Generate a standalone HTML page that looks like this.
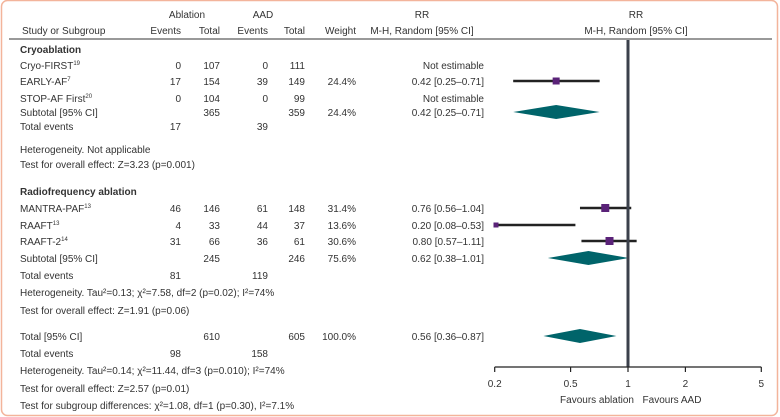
<!DOCTYPE html>
<html><head><meta charset="utf-8"><style>
html,body{margin:0;padding:0;background:#fff;}
svg{display:block;font-family:"Liberation Sans",Arial,sans-serif;font-size:10px;fill:#333;}
</style></head><body>
<svg width="780" height="417" viewBox="0 0 780 417">
<rect x="1.5" y="0.5" width="776" height="415" rx="6" fill="none" stroke="#f3b49b" stroke-width="1.5"/>
<g id="table"></g>
<g id="plot"></g>
</svg>
<script>
const rowLabels=["Cryo-FIRST","EARLY-AF","STOP-AF First","MANTRA-PAF","RAAFT","RAAFT-2"];
const rowSup=["19","7","20","13","13","14"];
const ablEvents=[0,17,0,46,4,31];
const ablTotal=[107,154,104,146,33,66];
const aadEvents=[0,39,0,61,44,36];
const aadTotal=[111,149,99,148,37,61];
const weights=["","24.4%","","31.4%","13.6%","30.6%"];
const rr=[null,0.42,null,0.76,0.20,0.80];
const lo=[null,0.25,null,0.56,0.08,0.57];
const hi=[null,0.71,null,1.04,0.53,1.11];
const markerSize=[0,7,0,8,5,8];
const rowY=[65,81,98,208,225,241];
const sumRR=[0.42,0.62,0.56];
const sumLo=[0.25,0.38,0.36];
const sumHi=[0.71,1.01,0.87];
const sumY=[112,258,336];
const ticks=[0.2,0.5,1,2,5];

const NS="http://www.w3.org/2000/svg";
const T=document.getElementById('table'),P=document.getElementById('plot');
function txt(g,x,y,s,anchor,bold,name){
  const t=document.createElementNS(NS,'text');
  t.setAttribute('x',x);t.setAttribute('y',y);
  if(anchor)t.setAttribute('text-anchor',anchor);
  if(bold)t.setAttribute('font-weight','bold');
  t.textContent=s;
  
  
  g.appendChild(t);return t;
}
function xs(v){return 628+Math.log10(v)/Math.log10(5)*133.3;}
// headers
txt(T,187,18,"Ablation","middle",false,"header-ablation");
txt(T,263,18,"AAD","middle",false,"header-aad");
txt(T,22,34,"Study or Subgroup","start",false,"header-study");
txt(T,181,34,"Events","end",false,"header-abl-events");
txt(T,220,34,"Total","end",false,"header-abl-total");
txt(T,268,34,"Events","end",false,"header-aad-events");
txt(T,305,34,"Total","end",false,"header-aad-total");
txt(T,356,34,"Weight","end",false,"header-weight");
txt(T,422,18,"RR","middle",false,"header-rr");
txt(T,422,34,"M-H, Random [95% CI]","middle",false,"header-rr-method");
txt(T,636,18,"RR","middle",false,"header-plot-rr");
txt(T,636,34,"M-H, Random [95% CI]","middle",false,"header-plot-method");
const rule=document.createElementNS(NS,'line');
rule.setAttribute('x1',9);rule.setAttribute('x2',772);rule.setAttribute('y1',39);rule.setAttribute('y2',39);
rule.setAttribute('stroke','#333');rule.setAttribute('stroke-width','1');


T.appendChild(rule);
txt(T,20,53,"Cryoablation","start",true,"group-cryoablation");
txt(T,20,195,"Radiofrequency ablation","start",true,"group-radiofrequency");
// study rows
for(let i=0;i<rowLabels.length;i++){
  const y=rowY[i]+4;
  const t=txt(T,20,y,rowLabels[i],"start",false,"study-label");
  const s=document.createElementNS(NS,'tspan');s.setAttribute('dy','-4');s.setAttribute('font-size','6');s.textContent=rowSup[i];t.appendChild(s);
  txt(T,181,y,String(ablEvents[i]),"end",false,"abl-events");
  txt(T,220,y,String(ablTotal[i]),"end",false,"abl-total");
  txt(T,268,y,String(aadEvents[i]),"end",false,"aad-events");
  txt(T,305,y,String(aadTotal[i]),"end",false,"aad-total");
  txt(T,356,y,weights[i],"end",false,"weight");
  txt(T,484,y,rr[i]==null?"Not estimable":rr[i].toFixed(2)+" ["+lo[i].toFixed(2)+"–"+hi[i].toFixed(2)+"]","end",false,"rr-value");
  if(rr[i]!=null){
    const l=document.createElementNS(NS,'line');
    l.setAttribute('x1',Math.max(xs(lo[i]),494.7));l.setAttribute('x2',xs(hi[i]));
    l.setAttribute('y1',rowY[i]);l.setAttribute('y2',rowY[i]);
    l.setAttribute('stroke','#222');l.setAttribute('stroke-width','2.5');
    
    
    P.appendChild(l);
    const r=document.createElementNS(NS,'rect'),m=markerSize[i];
    r.setAttribute('x',Math.max(xs(rr[i]),496)-m/2);r.setAttribute('y',rowY[i]-m/2);
    r.setAttribute('width',m);r.setAttribute('height',m);r.setAttribute('fill','#5a2278');
    
    
    P.appendChild(r);
  }
}
// subtotal rows
const sumLabels=["Subtotal [95% CI]","Subtotal [95% CI]","Total [95% CI]"];
const sumAbl=[365,245,610],sumAad=[359,246,605],sumW=["24.4%","75.6%","100.0%"];
for(let i=0;i<3;i++){
  const y=sumY[i]+4;
  txt(T,20,y,sumLabels[i],"start",false,"subtotal-label");
  txt(T,220,y,String(sumAbl[i]),"end",false,"subtotal-abl-total");
  txt(T,305,y,String(sumAad[i]),"end",false,"subtotal-aad-total");
  txt(T,356,y,sumW[i],"end",false,"subtotal-weight");
  txt(T,484,y,sumRR[i].toFixed(2)+" ["+sumLo[i].toFixed(2)+"–"+sumHi[i].toFixed(2)+"]","end",false,"subtotal-rr");
  const d=document.createElementNS(NS,'polygon'),c=sumY[i];
  d.setAttribute('points',xs(sumLo[i])+","+c+" "+xs(sumRR[i])+","+(c-7)+" "+xs(sumHi[i])+","+c+" "+xs(sumRR[i])+","+(c+7));
  d.setAttribute('fill','#00646a');
  
  
  P.appendChild(d);
}
const evY=[130,279,357],evA=[17,81,98],evB=[39,119,158];
for(let i=0;i<3;i++){
  txt(T,20,evY[i],"Total events","start",false,"total-events-label");
  txt(T,181,evY[i],String(evA[i]),"end",false,"total-events-abl");
  txt(T,268,evY[i],String(evB[i]),"end",false,"total-events-aad");
}
const notes=[[153,"Heterogeneity. Not applicable"],[168,"Test for overall effect: Z=3.23 (p=0.001)"],
[296,"Heterogeneity. Tau²=0.13; χ²=7.58, df=2 (p=0.02); I²=74%"],[314,"Test for overall effect: Z=1.91 (p=0.06)"],
[374,"Heterogeneity. Tau²=0.14; χ²=11.44, df=3 (p=0.010); I²=74%"],[392,"Test for overall effect: Z=2.57 (p=0.01)"],
[409,"Test for subgroup differences: χ²=1.08, df=1 (p=0.30), I²=7.1%"]];
notes.forEach(n=>txt(T,20,n[0],n[1],"start",false,"stats-note"));
// null line
const v=document.createElementNS(NS,'line');
v.setAttribute('x1',xs(1));v.setAttribute('x2',xs(1));v.setAttribute('y1',40);v.setAttribute('y2',367);
v.setAttribute('stroke','#3b404b');v.setAttribute('stroke-width','3');


P.appendChild(v);
// axis
const ax=document.createElementNS(NS,'line');
ax.setAttribute('x1',xs(0.2));ax.setAttribute('x2',xs(5));ax.setAttribute('y1',367);ax.setAttribute('y2',367);
ax.setAttribute('stroke','#222');ax.setAttribute('stroke-width','1.2');


P.appendChild(ax);
ticks.forEach(t=>{
  const l=document.createElementNS(NS,'line');
  l.setAttribute('x1',xs(t));l.setAttribute('x2',xs(t));l.setAttribute('y1',367);l.setAttribute('y2',372);
  l.setAttribute('stroke','#222');l.setAttribute('stroke-width','1.2');
  
  
  P.appendChild(l);
  txt(P,xs(t),387,String(t),"middle",false,"x-tick-label");
});
txt(P,597,403,"Favours ablation","middle",false,"favours-ablation");
txt(P,672,403,"Favours AAD","middle",false,"favours-aad");
</script>
</body></html>
